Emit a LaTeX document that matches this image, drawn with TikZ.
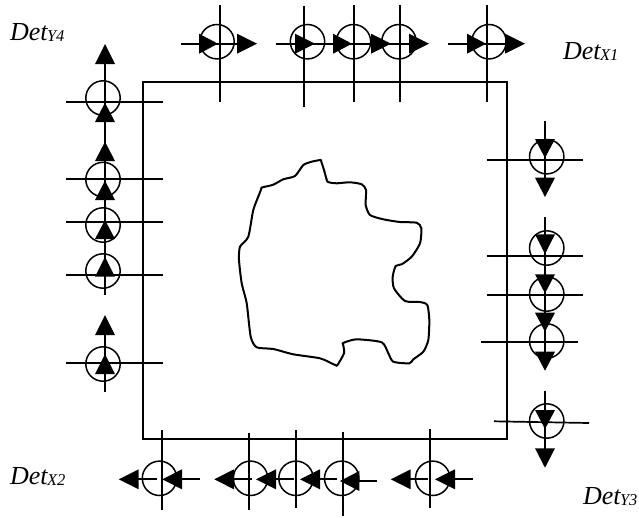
\documentclass[tikz,border=0pt]{standalone}
\usepackage{fontspec}
\setmainfont{Liberation Serif}
\newcommand{\detlabel}[3]{\node[lab] (#1) at (#2) {\fontsize{26}{28}\selectfont\itshape Det\kern-0.5pt\fontsize{16.5}{18}\selectfont\lower1pt\hbox{#3}};}
% horizontal triangle: base x, tip x, y
\newcommand{\trih}[3]{\fill[black] (#1,#3-10) -- (#2,#3) -- (#1,#3+10) -- cycle;}
% vertical triangle: x, base y, tip y
\newcommand{\triv}[3]{\fill[black] (#1-10,#2) -- (#1,#3) -- (#1+10,#2) -- cycle;}
\tikzset{
  wire/.style={line width=1.7pt, black},
  ring/.style={line width=1.5pt, black},
  frame/.style={line width=1.7pt, black},
  blob/.style={line width=2pt, black},
  lab/.style={anchor=base west, inner sep=0pt, outer sep=0pt}
}
\begin{document}
\begin{tikzpicture}[x=1pt,y=-1pt]
\useasboundingbox (0,0) rectangle (639,517);
\draw[frame] (143,82) rectangle (507,438.7);
% object
\draw[blob] plot[smooth cycle, tension=0.4] coordinates {
(260.5,191)(261.7,187.5)(264.5,186.8)(273.3,184.7)(283.3,179.3)(295,176)(303.3,165)(311.7,161.7)(319,160.2)(320.7,160)(321.6,162.5)
(324,170)(326.6,179.5)(327.5,181.7)(330,182.6)(336.7,183.3)(350,182.3)(361.7,184.3)(366,190)(365.7,205)(370,215)
(383.3,219.3)(400,222)(416.7,222.7)(421.3,228.3)(420,243.3)(411.7,256.7)(401.7,264.3)
(395.7,266)(392.7,276.7)(394,288.3)(405,301)(420,302)(427.3,305)(429.3,320)(428.3,340)
(423.3,351.7)(413.3,359.3)(409.3,363.3)(393.3,361.7)(388.3,353.3)(381.7,342.3)(356.7,339.3)
(345,342.2)(342.7,343.3)(343.3,345.5)(344,353.3)(337.5,365)(336,365.3)(333,364)(320,358.3)(293.3,354.3)(273.3,349)(256.7,347.3)
(250.7,336.7)(246.7,303.3)(241.7,283.3)(239,260)(240,246.7)(248.3,236.7)(253.3,210)};
% top row
\draw[wire] (220,4.5) -- (220,102);
\draw[wire] (181,43.7) -- (237,43.7);
\draw[ring] (217,41.7) circle (17.2);
\trih{199}{218}{43.7}\trih{237}{257}{43.7}
\draw[wire] (304,5.5) -- (304,107);
\draw[wire] (276,43.7) -- (409,43.7);
\draw[ring] (307.5,41.7) circle (17.2);
\trih{295}{315}{43.7}
\draw[wire] (354,4.5) -- (354,102);
\draw[ring] (353.5,41.7) circle (17.2);
\trih{333}{352}{43.7}\trih{371}{391}{43.7}
\draw[wire] (400,4.5) -- (400,102);
\draw[ring] (399,41.7) circle (17.2);
\trih{409}{429}{43.7}
\draw[wire] (487,4.5) -- (487,102);
\draw[wire] (448,43.7) -- (505,43.7);
\draw[ring] (489,41.7) circle (17.2);
\trih{467}{486}{43.7}\trih{505}{525}{43.7}
% left column
\draw[wire] (105,64) -- (105,295);
\draw[wire] (66,101.7) -- (163,101.7);
\draw[ring] (103,98) circle (17.2);
\triv{105}{64}{44}\triv{105}{122}{102.7}
\draw[wire] (66,179) -- (163,179);
\draw[ring] (103,179.5) circle (17.2);
\triv{105}{161}{141.7}\triv{105}{200}{180.7}
\draw[wire] (66,221.7) -- (163,221.7);
\draw[ring] (103,225) circle (17.2);
\triv{105}{239}{220}
\draw[wire] (66,275) -- (163,275);
\draw[ring] (103,271) circle (17.2);
\triv{105}{276.7}{257}
\draw[wire] (105,335) -- (105,391.7);
\draw[wire] (66,363) -- (163,363);
\draw[ring] (103,364) circle (17.2);
\triv{105}{335}{315}\triv{105}{374}{354}
% right column
\draw[wire] (545,120.7) -- (545,178);
\draw[wire] (486.7,159.7) -- (583,159.7);
\draw[ring] (546.7,156.7) circle (17.2);
\triv{545}{139}{158}\triv{545}{177.7}{197}
\draw[wire] (545,217) -- (545,352);
\draw[wire] (486.7,256) -- (583,256);
\draw[ring] (546.7,248) circle (17.2);
\triv{545}{234.3}{254}
\draw[wire] (486.7,294.7) -- (583,294.7);
\draw[ring] (546.7,294) circle (17.2);
\triv{545}{274.3}{293.3}\triv{545}{312.7}{331.7}
\draw[wire] (481,342.3) -- (577.7,342.3);
\draw[ring] (546.7,341) circle (17.2);
\triv{545}{351.7}{370.7}
\draw[wire] (545,390.7) -- (545,449);
\draw[wire] (494,421.3) -- (589,423);
\draw[ring] (546.7,421) circle (17.2);
\triv{545}{410}{429}\triv{545}{448.3}{467.7}
% bottom row
\draw[wire] (162.3,430) -- (162.3,510);
\draw[wire] (138,479.3) -- (157,479.3);
\draw[wire] (182,479.3) -- (200,479.3);
\draw[ring] (159.5,478.3) circle (17.2);
\trih{138.7}{118.7}{479.3}\trih{182}{162.3}{479.3}
\draw[wire] (249,433) -- (249,510);
\draw[wire] (234,479.3) -- (252.3,479.3);
\draw[wire] (276,479.3) -- (294.3,479.3);
\draw[ring] (250.5,478.3) circle (17.2);
\trih{234}{214.3}{479.3}\trih{276}{256}{479.3}
\draw[wire] (296,430) -- (296,508);
\draw[wire] (320,479.3) -- (337.3,479.3);
\draw[ring] (296,478.3) circle (17.2);
\trih{320}{300}{479.3}
\draw[wire] (342.7,432) -- (342.7,516);
\draw[wire] (359,481) -- (377,481);
\draw[ring] (341.7,478.3) circle (17.2);
\trih{359.3}{340}{481}
\draw[wire] (430,429) -- (430,508);
\draw[wire] (410,479.3) -- (428,479.3);
\draw[wire] (455,479.3) -- (473,479.3);
\draw[ring] (432.7,478.3) circle (17.2);
\trih{410.7}{390.7}{479.3}\trih{455}{435}{479.3}
% labels
\detlabel{detyfour}{10,40}{Y4}
\detlabel{detxone}{563,59.3}{X1}
\detlabel{detxtwo}{10,484}{X2}
\detlabel{detythree}{583,504}{Y3}
\end{tikzpicture}
\end{document}
